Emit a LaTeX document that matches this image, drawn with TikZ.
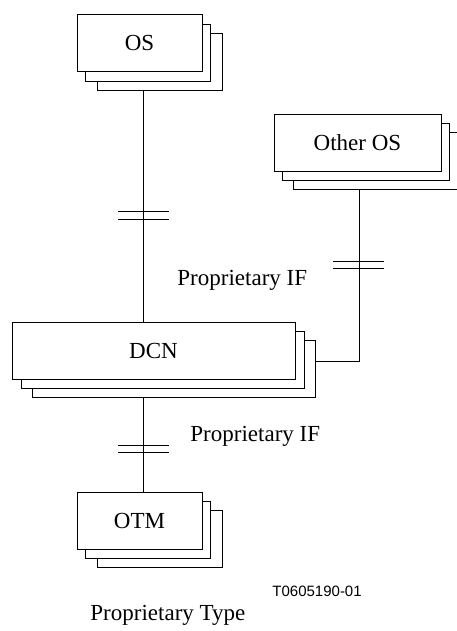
\documentclass[tikz,border=0pt]{standalone}
\usepackage{fontspec}
\setmainfont{Liberation Serif}
\newfontfamily\labelsans{Liberation Sans}
\begin{document}
\begin{tikzpicture}[x=1pt,y=-1pt,
  line width=0.9pt,
  card/.style={draw, fill=white, inner sep=0pt, outer sep=0pt,
    minimum height=57pt, font=\fontsize{23}{27}\selectfont},
  small/.style={minimum width=125pt},
  wide/.style={minimum width=167pt},
  huge/.style={minimum width=283pt},
  iflabel/.style={anchor=base west, inner sep=0pt, font=\fontsize{23}{27}\selectfont},
  tick/.style={line width=0.9pt}]
\useasboundingbox (0,0) rectangle (457,631);
\clip (0,0) rectangle (457,631);

% OS stack
\node[card, small] (os3) at (159.5,61.5) {};
\node[card, small] (os2) at (147.5,52.5) {};
\node[card, small] (os)  at (139.5,42.5) {OS};

% Other OS stack
\node[card, wide] (oos3) at (376.5,160.5) {};
\node[card, wide] (oos2) at (366,151.5) {};
\node[card, wide] (oos)  at (357.5,142.5) {Other OS};

% DCN stack
\node[card, huge] (dcn3) at (173.5,369) {};
\node[card, huge] (dcn2) at (162.5,359.5) {};
\node[card, huge] (dcn)  at (153.5,350.5) {DCN};

% OTM stack
\node[card, small] (otm3) at (160,538.5) {};
\node[card, small] (otm2) at (148,529.5) {};
\node[card, small] (otm)  at (139.5,520.5) {OTM};

% connector guides
\coordinate (axis) at (143,0);
\coordinate (join) at (359,361);

% links
\draw (os3.south -| axis) -- (dcn.north -| axis);
\draw (oos3.south -| join) -- (join) -- (join -| dcn3.east);
\draw (dcn3.south -| axis) -- (otm.north -| axis);

% interface marks
\coordinate (m1) at (143,215.5);
\coordinate (m2) at (358.5,265);
\coordinate (m3) at (143,449);
\foreach \m in {m1,m2,m3}{
  \draw[tick] ([shift={(-25.5,-3.7)}]\m) -- ++(51,0);
  \draw[tick] ([shift={(-25.5,3.7)}]\m) -- ++(51,0);
}

% labels
\node[iflabel] (if1) at (177,285) {Proprietary IF};
\node[iflabel] (if2) at (190,441) {Proprietary IF};
\node[iflabel] (ptype) at (90,620) {Proprietary Type};
\node[anchor=base west, inner sep=0pt, font=\labelsans\fontsize{15}{18}\selectfont] (ref) at (272,596) {T0605190-01};
\end{tikzpicture}
\end{document}
